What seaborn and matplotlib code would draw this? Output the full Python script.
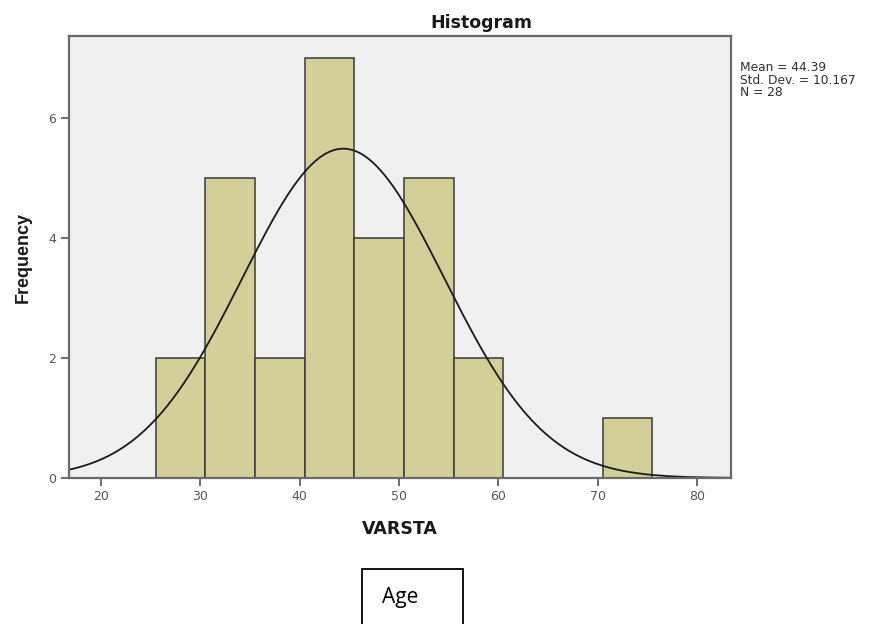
import numpy as np
import pandas as pd
import matplotlib
matplotlib.use("Agg")
import matplotlib.pyplot as plt
from matplotlib.patches import Rectangle
import seaborn as sns

# histogram data
bin_edges = [25.5, 30.5, 35.5, 40.5, 45.5, 50.5, 55.5, 60.5, 65.5, 70.5, 75.5]
bin_centers = [28, 33, 38, 43, 48, 53, 58, 63, 68, 73]
counts = [2, 5, 2, 7, 4, 5, 2, 0, 0, 1]

# summary stats shown in the legend box
mean_val = 44.39
std_val = 10.167
n_val = 28
bin_width = 5

x_ticks = [20, 30, 40, 50, 60, 70, 80]
y_ticks = [0, 2, 4, 6]

sns.set_style("white")
plt.rcParams['font.family'] = ['DejaVu Sans']

fig = plt.figure(figsize=(8.84, 6.24), dpi=100, facecolor='white')
ax = fig.add_axes([0.078, 0.234, 0.749, 0.708])
ax.set_facecolor('#F0F0F0')

df = pd.DataFrame({"VARSTA": bin_centers, "count": counts})
sns.histplot(data=df, x="VARSTA", weights="count", bins=bin_edges,
             color='#D3CF98', alpha=1, edgecolor='#3a3a3a', linewidth=1.1, ax=ax)

# fitted normal curve
xmin, xmax = 16.78, 83.42
xs = np.linspace(xmin, xmax, 300)
ys = n_val * bin_width * np.exp(-0.5 * ((xs - mean_val) / std_val) ** 2) / (std_val * np.sqrt(2 * np.pi))
sns.lineplot(x=xs, y=ys, color='#1a1a1a', linewidth=1.3, ax=ax)

ax.set_xlim(xmin, xmax)
ax.set_ylim(0, 7.37)
ax.set_xticks(x_ticks)
ax.set_yticks(y_ticks)
ax.tick_params(axis='both', direction='out', length=6, width=1.3, color='#606060',
               labelsize=9, labelcolor='#555555', bottom=True, left=True, pad=3)
for s in ax.spines.values():
    s.set_color('#6a6a6a')
    s.set_linewidth(1.6)

ax.set_xlabel("VARSTA", fontsize=12.5, fontweight='bold', color='#1a1a1a', labelpad=12)
ax.set_ylabel("Frequency", fontsize=13, fontweight='bold', color='#1a1a1a',
              family=['Liberation Sans Narrow', 'Liberation Sans'], labelpad=12)

fig.text(481 / 884, 1 - 28 / 624, "Histogram", ha='center', va='baseline',
         fontsize=12.5, fontweight='bold', color='#1a1a1a')

fig.text(740 / 884, 1 - 61 / 624,
         f"Mean = {mean_val}\nStd. Dev. = {std_val}\nN = {n_val}",
         ha='left', va='top', fontsize=8.8, color='#303030', linespacing=0.95)

# caption box below the chart
fig.patches.append(Rectangle((362 / 884, -0.05), 101 / 884, 0.05 + (624 - 569) / 624,
                             transform=fig.transFigure, fill=False,
                             edgecolor='black', linewidth=1.3, clip_on=False))
fig.text(382 / 884, 1 - 598 / 624, "Age", ha='left', va='center',
         fontsize=15, color='black', family=['Open Sans', 'DejaVu Sans'])

fig.savefig("out.png", dpi=100, facecolor='white')
